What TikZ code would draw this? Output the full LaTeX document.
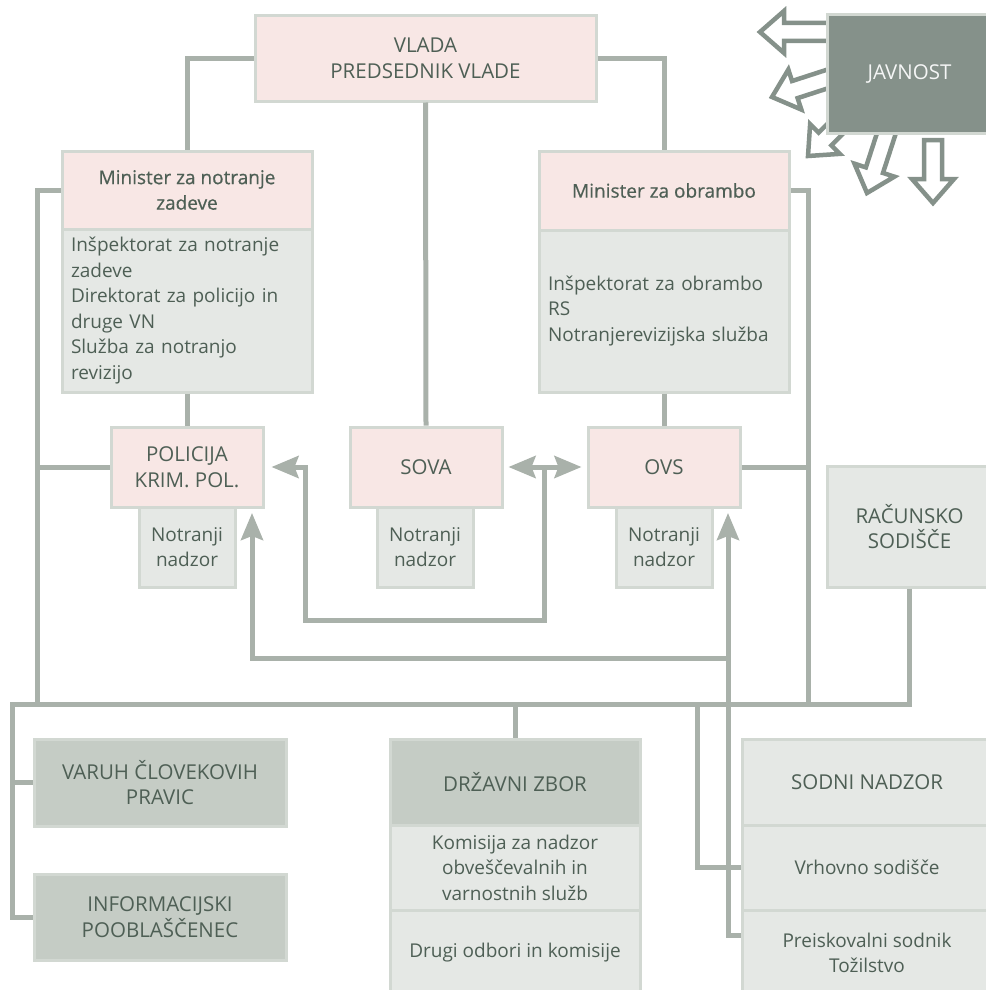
\documentclass[tikz,border=0pt]{standalone}
\usepackage{fontspec}
\setmainfont{Open Sans}
\newfontfamily\headfont[FakeBold=0.6]{Open Sans}
\usetikzlibrary{arrows.meta}

\definecolor{linecol}{HTML}{A9B1AA}
\definecolor{boxline}{HTML}{D2D8D2}
\definecolor{pinkfill}{HTML}{F8E7E5}
\definecolor{lightfill}{HTML}{E5E8E5}
\definecolor{midfill}{HTML}{C5CCC5}
\definecolor{darkfill}{HTML}{85918A}
\definecolor{textcol}{HTML}{4E5F55}

\begin{document}
\begin{tikzpicture}[x=1pt,y=-1pt,
    box/.style={draw=boxline,line width=3pt,inner sep=0pt,align=center,text=textcol,font=\fontsize{19}{25.5}\selectfont},
    caps/.style={font=\fontsize{20.5}{25.5}\selectfont},
    pinkbox/.style={box,caps,fill=pinkfill,minimum width=152pt,minimum height=80pt},
    head/.style={box,fill=pinkfill,font=\headfont\fontsize{19}{25.5}\selectfont,minimum width=250pt},
    body/.style={box,fill=lightfill,text width=232pt,inner xsep=9pt,align=left},
    nadzor/.style={box,fill=lightfill,minimum width=96pt,minimum height=80pt},
    greybox/.style={box,fill=lightfill,minimum width=250pt,minimum height=86pt},
    midbox/.style={box,caps,fill=midfill,minimum width=250pt,minimum height=86pt},
    link/.style={draw=linecol,line width=5pt},
    arr/.style={link,-{Stealth[length=27pt,width=22pt,inset=4pt]}},
    arrr/.style={link,{Stealth[length=27pt,width=22pt,inset=4pt]}-{Stealth[length=27pt,width=22pt,inset=4pt]}},
    hollow/.style={draw=darkfill,fill=white,line width=4.5pt}]
\useasboundingbox (0,0) rectangle (985,990);

\foreach \x/\y/\a/\l in {760/32/180/70, 772/97/198/72, 808/156/225/50, 867/193/252/72, 933/203/270/63}
    \draw[hollow,shift={(\x,\y)},rotate=\a] (0,0) -- (-24,21) -- (-24,9) -- (-\l,9) -- (-\l,-9) -- (-24,-9) -- (-24,-21) -- cycle;

\node[box,caps,fill=darkfill,text=white!92!darkfill,minimum width=165pt,minimum height=118pt] (javnost) at (909.5,74) {JAVNOST};

\node[box,caps,fill=pinkfill,minimum width=341pt,minimum height=85pt] (vlada) at (425.5,58.5) {VLADA\\PREDSEDNIK VLADE};

\node[head,minimum height=78pt] (notr) at (187,190) {Minister za notranje\\zadeve};
\node[body,minimum height=163pt] (notrbody) at (187,310.5) {Inšpektorat za notranje\\zadeve\\Direktorat za policijo in\\druge VN\\Služba za notranjo\\revizijo};
\node[head,minimum height=79pt] (obr) at (664,190.5) {Minister za obrambo};
\node[body,minimum height=162pt] (obrbody) at (664,311) {Inšpektorat za obrambo\\RS\\Notranjerevizijska služba};

\node[pinkbox] (pol) at (187,467) {POLICIJA\\KRIM. POL.};
\node[nadzor] (polnn) at (187,547) {Notranji\\nadzor};
\node[pinkbox] (sova) at (426,467) {SOVA};
\node[nadzor] (sovann) at (425,547) {Notranji\\nadzor};
\node[pinkbox] (ovs) at (664,467) {OVS};
\node[nadzor] (ovsnn) at (664,547) {Notranji\\nadzor};

\node[box,caps,fill=lightfill,minimum width=165pt,minimum height=121pt] (racun) at (909.5,526.5) {RAČUNSKO\\SODIŠČE};

\node[midbox,minimum width=252pt,minimum height=87pt] (varuh) at (160,782.5) {VARUH ČLOVEKOVIH\\PRAVIC};
\node[midbox,minimum width=252pt] (info) at (160,917) {INFORMACIJSKI\\POOBLAŠČENEC};

\node[midbox] (dz) at (515,782) {DRŽAVNI ZBOR};
\node[greybox,minimum height=85pt] (komisija) at (515,867.5) {Komisija za nadzor\\obveščevalnih in\\varnostnih služb};
\node[greybox] (drugi) at (515,953) {Drugi odbori in komisije};

\node[greybox,caps] (sodni) at (867,782) {SODNI NADZOR};
\node[greybox,minimum height=85pt] (vrhovno) at (867,867.5) {Vrhovno sodišče};
\node[greybox] (preisk) at (867,953) {Preiskovalni sodnik\\Tožilstvo};

\coordinate (bw) at (12,704);
\coordinate (bl) at (37,704);
\coordinate (br) at (808,704);
\coordinate (vb) at (697,704);
\coordinate (ovsin) at (728,513);
\coordinate (polin) at (252,513);
\coordinate (cb) at (728,658);
\coordinate (sv) at (544,467);
\coordinate (sl) at (305,620);

\draw[link] (vlada.west) -| (notr.north);
\draw[link] (vlada.east) -| (obr.north);
\draw[link] (vlada.south) -- (sova.north);
\draw[link] (notrbody.south) -- (pol.north);
\draw[link] (obrbody.south) -- (ovs.north);
\draw[link] (notr.west) -| (bl);
\draw[link] (pol.west) -- (pol.west -| bl);
\draw[link] (obr.east) -| (br);
\draw[link] (ovs.east) -- (ovs.east -| br);
\draw[link] (racun.south) |- (bw) |- (info.west);
\draw[link] (varuh.west) -- (varuh.west -| bw);
\draw[link] (dz.north) -- (dz.north |- bw);
\draw[link] (vrhovno.west) -| (vb);
\draw[arr] ([yshift=18pt]preisk.west) -| (ovsin);
\draw[arr] (cb) -| (polin);
\draw[arr] (sv) |- (sl) |- ([xshift=7pt]pol.east);
\draw[arrr] ([xshift=5pt]sova.east) -- ([xshift=-5pt]ovs.west);
\end{tikzpicture}
\end{document}
